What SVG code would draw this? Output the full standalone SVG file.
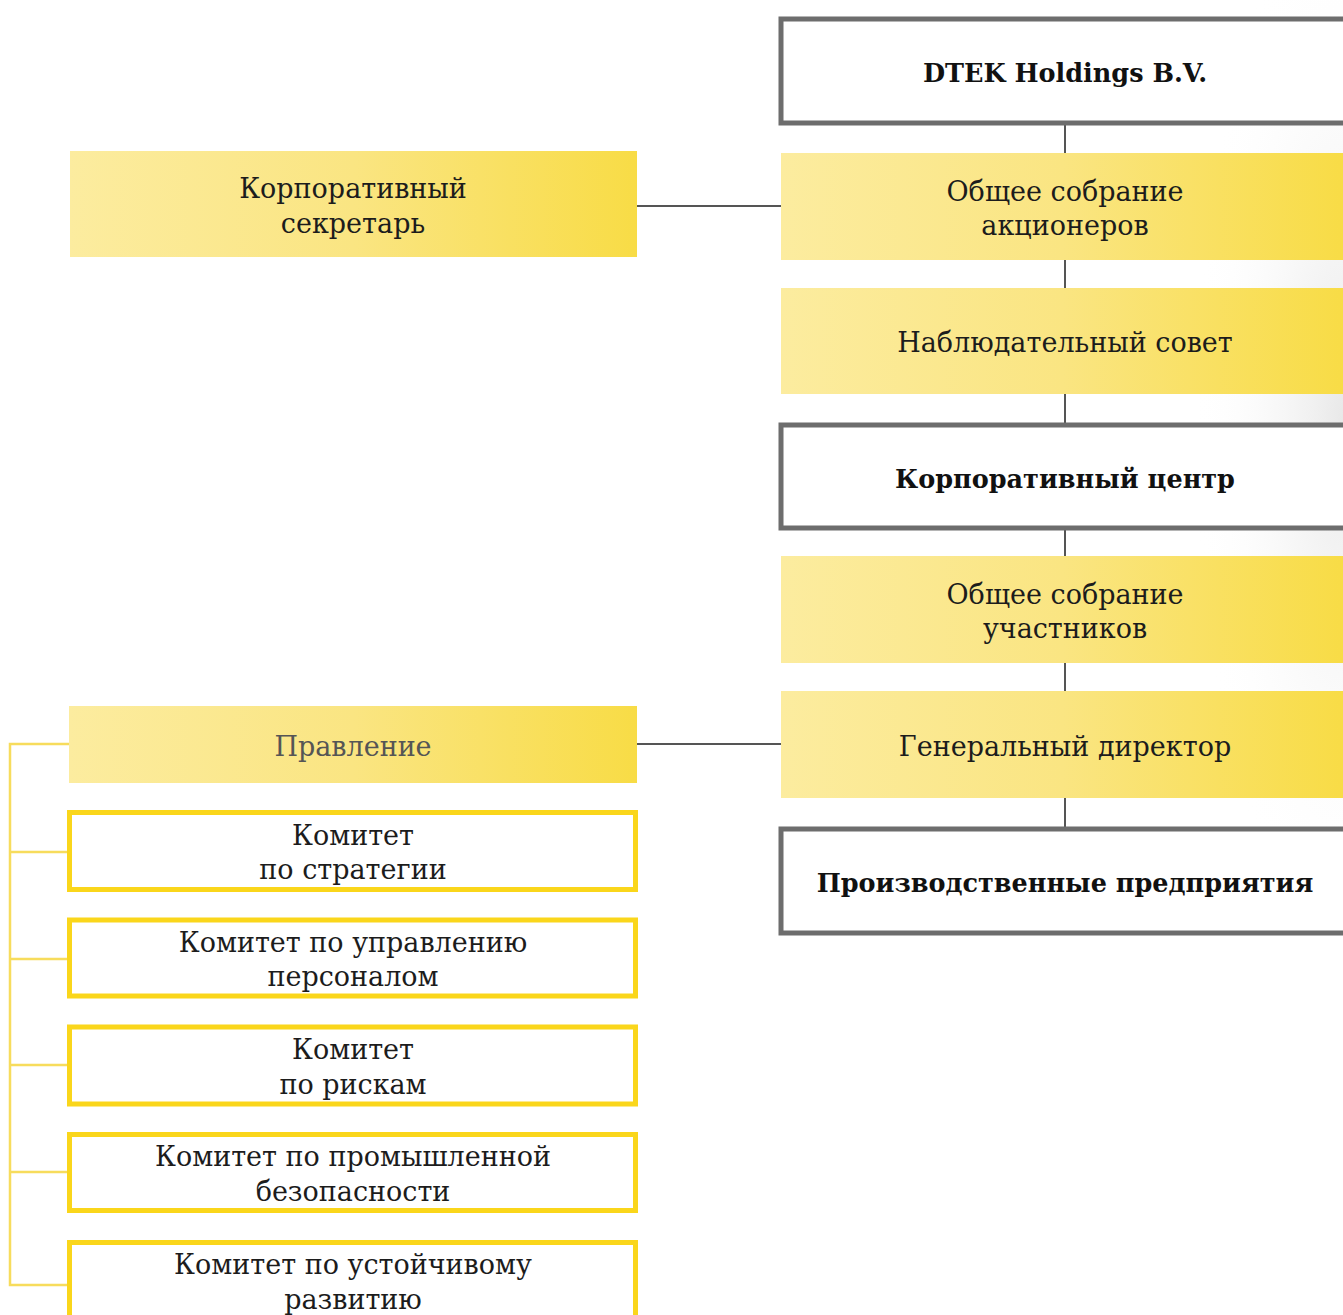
<svg xmlns="http://www.w3.org/2000/svg" width="1343" height="1315" viewBox="0 0 1343 1315">
<style>
.t{font-family:"DejaVu Serif","Liberation Serif",serif;font-size:27px;fill:#1c1c1c;text-anchor:middle}
.b{font-family:"DejaVu Serif","Liberation Serif",serif;font-size:25.5px;font-weight:bold;fill:#111;text-anchor:middle}
.g{fill:url(#yg)}
.box{fill:#fff;stroke:#6d6d6d;stroke-width:5}
.com{fill:#fff;stroke:#fad61b;stroke-width:5}
.con{stroke:#555;stroke-width:2;fill:none}
.br{stroke:#f7dc5c;stroke-width:2.5;fill:none}
</style>
<defs>
<linearGradient id="yg" x1="0" y1="0" x2="1" y2="0">
<stop offset="0" stop-color="#fcec9f"/>
<stop offset="0.5" stop-color="#fae582"/>
<stop offset="1" stop-color="#f8dc46"/>
</linearGradient>
<radialGradient id="bg" cx="0.5" cy="0.5" r="0.5">
<stop offset="0" stop-color="#e8e8e8"/>
<stop offset="1" stop-color="#ffffff" stop-opacity="0"/>
</radialGradient>
</defs>
<rect width="1343" height="1315" fill="#fff"/>
<ellipse cx="1343" cy="420" rx="150" ry="520" fill="url(#bg)"/>
<g id="connectors">
<line class="con" x1="1065" y1="125" x2="1065" y2="153"/>
<line class="con" x1="1065" y1="260" x2="1065" y2="288"/>
<line class="con" x1="1065" y1="394" x2="1065" y2="423"/>
<line class="con" x1="1065" y1="530" x2="1065" y2="556"/>
<line class="con" x1="1065" y1="663" x2="1065" y2="691"/>
<line class="con" x1="1065" y1="798" x2="1065" y2="827"/>
<line class="con" x1="637" y1="206" x2="781" y2="206"/>
<line class="con" x1="637" y1="744" x2="781" y2="744"/>
<path class="br" d="M69 744 H10 V1285 H67 M10 852 H67 M10 959 H67 M10 1065 H67 M10 1172 H67"/>
</g>
<g id="dtek">
<rect class="box" x="781" y="19" width="580" height="104"/>
<text class="b" x="1065" y="82">DTEK Holdings B.V.</text>
</g>
<g id="shareholders">
<rect class="g" x="781" y="153" width="562" height="107"/>
<text class="t" x="1065" y="201">Общее собрание</text>
<text class="t" x="1065" y="235">акционеров</text>
</g>
<g id="supervisory">
<rect class="g" x="781" y="288" width="562" height="106"/>
<text class="t" x="1065" y="352">Наблюдательный совет</text>
</g>
<g id="corpcenter">
<rect class="box" x="781" y="425" width="580" height="103"/>
<text class="b" x="1065" y="488">Корпоративный центр</text>
</g>
<g id="participants">
<rect class="g" x="781" y="556" width="562" height="107"/>
<text class="t" x="1065" y="604">Общее собрание</text>
<text class="t" x="1065" y="638">участников</text>
</g>
<g id="ceo">
<rect class="g" x="781" y="691" width="562" height="107"/>
<text class="t" x="1065" y="756">Генеральный директор</text>
</g>
<g id="production">
<rect class="box" x="781" y="829" width="580" height="104"/>
<text class="b" x="1065" y="892">Производственные предприятия</text>
</g>
<g id="secretary">
<rect class="g" x="70" y="151" width="567" height="106"/>
<text class="t" x="353" y="198">Корпоративный</text>
<text class="t" x="353" y="233">секретарь</text>
</g>
<g id="board">
<rect class="g" x="69" y="706" width="568" height="77"/>
<text class="t" x="353" y="756" style="fill:#555">Правление</text>
</g>
<g id="strategy">
<rect class="com" x="69.5" y="812.5" width="566" height="77"/>
<text class="t" x="353" y="845">Комитет</text>
<text class="t" x="353" y="879">по стратегии</text>
</g>
<g id="hr">
<rect class="com" x="69.5" y="920" width="566" height="76"/>
<text class="t" x="353" y="952">Комитет по управлению</text>
<text class="t" x="353" y="986">персоналом</text>
</g>
<g id="risks">
<rect class="com" x="69.5" y="1027" width="566" height="77"/>
<text class="t" x="353" y="1059">Комитет</text>
<text class="t" x="353" y="1094">по рискам</text>
</g>
<g id="safety">
<rect class="com" x="69.5" y="1134.5" width="566" height="76"/>
<text class="t" x="353" y="1166">Комитет по промышленной</text>
<text class="t" x="353" y="1201">безопасности</text>
</g>
<g id="sustain">
<rect class="com" x="69.5" y="1242.5" width="566" height="90"/>
<text class="t" x="353" y="1274">Комитет по устойчивому</text>
<text class="t" x="353" y="1309">развитию</text>
</g>
</svg>
